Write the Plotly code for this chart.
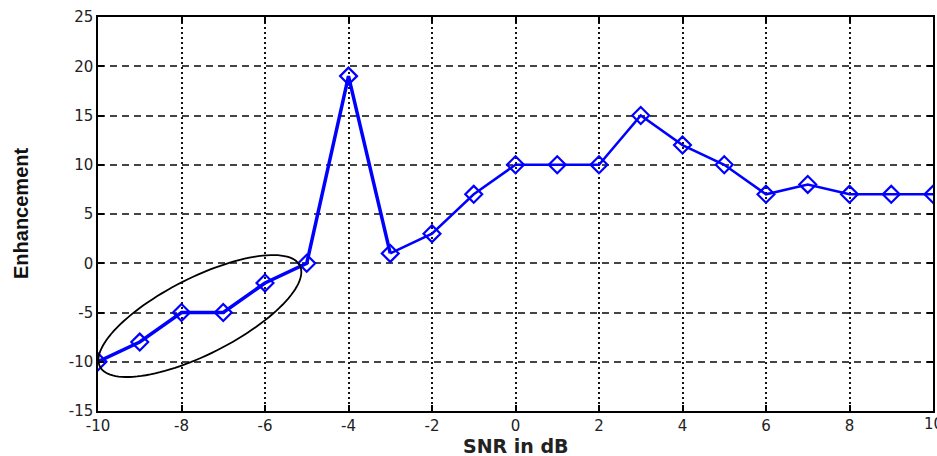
import numpy as np
import plotly.graph_objects as go

snr_db = [-10, -9, -8, -7, -6, -5, -4, -3, -2, -1, 0, 1, 2, 3, 4, 5, 6, 7, 8, 9, 10]
enhancement = [-10, -8, -5, -5, -2, 0, 19, 1, 3, 7, 10, 10, 10, 15, 12, 10, 7, 8, 7, 7, 7]
x_ticks = [-10, -8, -6, -4, -2, 0, 2, 4, 6, 8, 10]
y_ticks = [-15, -10, -5, 0, 5, 10, 15, 20, 25]

W, H = 937, 456
ML, MR, MT, MB = 98, 4, 17, 45
XR = (-10, 10)
YR = (-15, 25)
pw, ph = W - ML - MR, H - MT - MB
sx = pw / (XR[1] - XR[0])
sy = ph / (YR[1] - YR[0])

blue = "#0000ff"
split = snr_db.index(-3) + 1

fig = go.Figure()
fig.add_trace(go.Scatter(x=snr_db[:split], y=enhancement[:split], mode="lines",
                         line=dict(color=blue, width=3.5), hoverinfo="skip", showlegend=False))
fig.add_trace(go.Scatter(x=snr_db[split - 1:], y=enhancement[split - 1:], mode="lines",
                         line=dict(color=blue, width=2.5), hoverinfo="skip", showlegend=False))
fig.add_trace(go.Scatter(x=snr_db, y=enhancement, mode="markers",
                         marker=dict(symbol="diamond-open", size=13, color=blue,
                                     line=dict(color=blue, width=2.2)),
                         showlegend=False))

# ellipse annotation (center in data units, semi-axes in pixels, tilt in degrees)
ell_cx, ell_cy = -7.56, -5.36
ell_a, ell_b, ell_ang = 112, 38.3, 26.8
t = np.linspace(0, 2 * np.pi, 121)
th = np.deg2rad(ell_ang)
dxp = ell_a * np.cos(t) * np.cos(th) - ell_b * np.sin(t) * np.sin(th)
dyp = ell_a * np.cos(t) * np.sin(th) + ell_b * np.sin(t) * np.cos(th)
ex = ell_cx + dxp / sx
ey = ell_cy + dyp / sy
path = "M " + " L ".join(f"{a:.4f},{b:.4f}" for a, b in zip(ex, ey)) + " Z"
fig.add_shape(type="path", path=path, xref="x", yref="y",
              line=dict(color="black", width=1.8), layer="above")

tickfont = dict(family="DejaVu Sans", size=15, color="#222222")
fig.update_xaxes(range=list(XR), tickvals=x_ticks, ticktext=[str(v) for v in x_ticks],
                 showgrid=True, gridcolor="#111111", gridwidth=2, griddash="2px,3px",
                 showline=True, linecolor="black", linewidth=1.5, mirror="ticks",
                 ticks="inside", ticklen=6, tickwidth=1.5, tickcolor="black",
                 tickfont=tickfont, zeroline=False)
fig.update_yaxes(range=list(YR), tickvals=y_ticks, ticktext=[str(v) for v in y_ticks],
                 showgrid=True, gridcolor="#444444", gridwidth=1.5, griddash="7px,5px",
                 showline=True, linecolor="black", linewidth=1.5, mirror="ticks",
                 ticks="inside", ticklen=6, tickwidth=1.5, tickcolor="black",
                 tickfont=tickfont, zeroline=False)

# last x tick label (clipped at the right edge in the original)
for v in x_ticks:
    if v >= XR[1]:
        fig.add_annotation(text=str(v), xref="x", yref="paper", x=v, y=0, yshift=-13,
                           xanchor="center", yanchor="middle", showarrow=False,
                           font=tickfont)

fig.add_annotation(text="<b>SNR in dB</b>", xref="paper", yref="paper", x=0.5, y=0,
                   yshift=-35, xanchor="center", yanchor="middle", showarrow=False,
                   borderpad=0, font=dict(family="DejaVu Sans", size=19, color="#222222"))
fig.add_annotation(text="<b>Enhancement</b>", xref="paper", yref="paper", x=0, y=0.5,
                   xshift=-77, xanchor="center", yanchor="middle", showarrow=False, textangle=-90,
                   font=dict(family="Liberation Sans", size=20, color="#111111"))

fig.update_layout(width=W, height=H, margin=dict(l=ML, r=MR, t=MT, b=MB, autoexpand=False),
                  plot_bgcolor="white", paper_bgcolor="white", showlegend=False)

fig.write_html("out.html", config={"displayModeBar": False},
               post_script="document.body.style.margin='0';")
